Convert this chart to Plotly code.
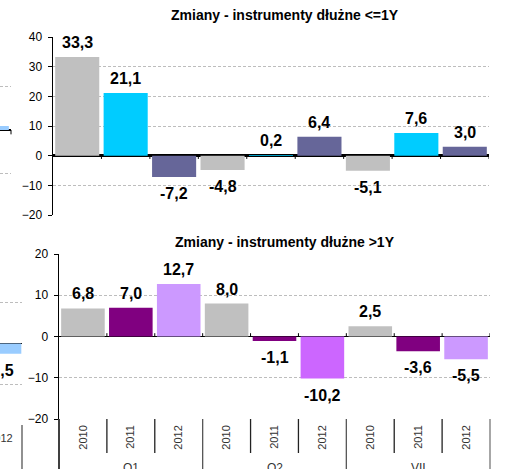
import plotly.graph_objects as go

# ---------------- data ----------------
quarters = ["Q1", "Q2", "VII"]
years = ["2010", "2011", "2012"]
short_debt = [33.3, 21.1, -7.2, -4.8, 0.2, 6.4, -5.1, 7.6, 3.0]
long_debt = [6.8, 7.0, 12.7, 8.0, -1.1, -10.2, 2.5, -3.6, -5.5]
title_short = "Zmiany - instrumenty dłużne <=1Y"
title_long = "Zmiany - instrumenty dłużne >1Y"
y_ticks_short = [-20, -10, 0, 10, 20, 30, 40]
y_ticks_long = [-20, -10, 0, 10, 20]
# cropped neighbouring chart visible at the left edge (last category only)
left_top_value = [0.9]
left_bottom_value = [-2.5]
left_year = ["2012"]

# ---------------- styles ----------------
short_colors = ["#C0C0C0", "#00CCFF", "#666699"] * 3
long_colors = ["#C0C0C0", "#800080", "#CC99FF",
               "#C0C0C0", "#800080", "#CC66FF",
               "#C0C0C0", "#800080", "#CC99FF"]
FONT = "Liberation Sans, Arial, sans-serif"
GRID = "#BDBDBD"
W, H = 512, 469


def px_x(p):
    return p / W


def px_y(p):
    return 1 - p / H


cat_years = years * len(quarters)
xs = list(range(len(cat_years)))


def fmt(v):
    return f"{v:.1f}".replace(".", ",")


fig = go.Figure()
fig.add_trace(go.Bar(x=xs, y=short_debt, marker=dict(color=short_colors, line_width=0),
                     xaxis="x", yaxis="y", hoverinfo="skip"))
fig.add_trace(go.Bar(x=xs, y=long_debt, marker=dict(color=long_colors, line_width=0),
                     xaxis="x2", yaxis="y2", hoverinfo="skip"))
fig.add_trace(go.Bar(x=[xs[-1]], y=left_top_value, marker=dict(color="#99CCFF", line_width=0),
                     xaxis="x3", yaxis="y3", hoverinfo="skip"))
fig.add_trace(go.Bar(x=[xs[-1]], y=left_bottom_value, marker=dict(color="#99CCFF", line_width=0),
                     xaxis="x4", yaxis="y4", hoverinfo="skip"))

yax_common = dict(showgrid=True, gridcolor=GRID, gridwidth=1, griddash="3px,2px",
                  zeroline=True, zerolinecolor="black", automargin=False,
                  tickfont=dict(family=FONT, size=12, color="black"))

top_dom_y = [px_y(215), px_y(37)]
bot_dom_y = [px_y(419), px_y(254)]

fig.update_layout(
    width=W, height=H, margin=dict(l=0, r=0, t=0, b=0, autoexpand=False),
    paper_bgcolor="white", plot_bgcolor="rgba(0,0,0,0)",
    showlegend=False, bargap=0.09,
    font=dict(family=FONT, color="black"),
    xaxis=dict(domain=[px_x(53), px_x(489)], range=[-0.5, 8.5], anchor="y", automargin=False,
               showticklabels=False, showgrid=False, zeroline=False, showline=False, ticks=""),
    yaxis=dict(domain=top_dom_y, range=[-20, 40], anchor="x", tickvals=y_ticks_short,
               zerolinewidth=2.5, showline=True, linecolor="black", linewidth=1.5,
               ticks="outside", ticklen=4, tickcolor="black", tickwidth=1,
               ticklabelstandoff=3, **yax_common),
    xaxis2=dict(domain=[px_x(59), px_x(490)], range=[-0.5, 8.5], anchor="y2", automargin=False,
                tickvals=xs, ticktext=cat_years, tickangle=-90, ticks="",
                ticklabelstandoff=3,
                tickfont=dict(family=FONT, size=11, color="#333333"),
                showgrid=False, zeroline=False, showline=False),
    yaxis2=dict(domain=bot_dom_y, range=[-20, 20], anchor="x2", tickvals=y_ticks_long,
                zerolinewidth=1.5, showline=True, linecolor="black", linewidth=1.5,
                ticks="outside", ticklen=4, tickcolor="black", tickwidth=1,
                ticklabelstandoff=3, **yax_common),
    xaxis3=dict(domain=[0, px_x(11)], range=[8.27, 8.5], anchor="y3", automargin=False,
                showticklabels=False, showgrid=False, zeroline=False, showline=False, ticks=""),
    yaxis3=dict(domain=[px_y(217), px_y(43)], range=[-20, 20], anchor="x3", automargin=False,
                tickvals=y_ticks_long, showticklabels=False, ticks="",
                zerolinewidth=1.2, showline=False,
                showgrid=True, gridcolor=GRID, gridwidth=1, griddash="3px,2px",
                zeroline=True, zerolinecolor="black"),
    xaxis4=dict(domain=[0, px_x(22)], range=[7.99, 8.47], anchor="y4", automargin=False,
                tickvals=[xs[-1]], ticktext=left_year, tickangle=0, ticks="",
                ticklabeloverflow="allow", ticklabelstandoff=5,
                tickfont=dict(family=FONT, size=11, color="#333333"),
                showgrid=False, zeroline=False, showline=False),
    yaxis4=dict(domain=[px_y(425), px_y(262)], range=[-20, 20], anchor="x4", automargin=False,
                tickvals=y_ticks_long, showticklabels=False, ticks="",
                zerolinewidth=1.5, showline=False,
                showgrid=True, gridcolor=GRID, gridwidth=1, griddash="3px,2px",
                zeroline=True, zerolinecolor="black"),
)

annotations = []


def add_labels(values, xref, yref, pos_shift=4, neg_shift=-6):
    for i, v in enumerate(values):
        annotations.append(dict(
            x=xs[i] if len(values) == len(xs) else xs[-1], y=v, xref=xref, yref=yref,
            text=fmt(v), showarrow=False,
            yanchor="bottom" if v >= 0 else "top",
            yshift=pos_shift if v >= 0 else neg_shift,
            font=dict(family=FONT, size=16, color="black", weight="bold")))


add_labels(short_debt, "x", "y")
add_labels(long_debt, "x2", "y2")
add_labels(left_bottom_value, "x4", "y4")

# chart titles
annotations.append(dict(x=px_x(285), y=px_y(15), xref="paper", yref="paper", text=title_short,
                        showarrow=False, xanchor="center", yanchor="middle",
                        font=dict(family=FONT, size=14, color="black", weight="bold")))
annotations.append(dict(x=px_x(285), y=px_y(242), xref="paper", yref="paper", text=title_long,
                        showarrow=False, xanchor="center", yanchor="middle",
                        font=dict(family=FONT, size=14, color="black", weight="bold")))

# group (quarter) labels
for g, q in enumerate(quarters):
    annotations.append(dict(x=g * len(years) + (len(years) - 1) / 2, y=px_y(459),
                            xref="x2", yref="paper", text=q, showarrow=False,
                            yanchor="top", font=dict(family=FONT, size=12, color="#333333")))

shapes = []
# small boundary ticks on the zero lines
for i in range(len(xs)):
    b = i + 0.5
    shapes.append(dict(type="line", xref="x", yref="y", x0=b, x1=b, y0=0, y1=-1.1,
                       line=dict(color="black", width=1)))
    shapes.append(dict(type="line", xref="x2", yref="y2", x0=b, x1=b, y0=0, y1=0.8,
                       line=dict(color="black", width=1)))

# category separators below the bottom chart
bot_y0 = bot_dom_y[0]
for i in range(len(xs) - 1):
    b = i + 0.5
    is_group = (i + 1) % len(years) == 0
    shapes.append(dict(type="line", xref="x2", yref="paper", x0=b, x1=b,
                       y0=bot_y0, y1=0 if is_group else px_y(453),
                       line=dict(color="#555555" if is_group else "#222222", width=1.3)))
shapes.append(dict(type="line", xref="x2 domain", yref="paper", x0=1, x1=1,
                   y0=bot_y0, y1=0, line=dict(color="#777777", width=1.3)))
shapes.append(dict(type="line", xref="x2 domain", yref="paper", x0=0, x1=0,
                   y0=bot_y0, y1=0, line=dict(color="black", width=1.5)))
# cropped neighbour chart details
shapes.append(dict(type="line", xref="x4 domain", yref="paper", x0=1, x1=1,
                   y0=px_y(425), y1=0, line=dict(color="#555555", width=1.3)))
shapes.append(dict(type="line", xref="x3 domain", yref="y3", x0=1, x1=1,
                   y0=0, y1=-1, line=dict(color="black", width=1)))

fig.update_layout(annotations=annotations, shapes=shapes)
fig.write_html("out.html",
               config={"displayModeBar": False, "staticPlot": True},
               post_script="document.body.style.margin='0px';document.body.style.padding='0px';")
